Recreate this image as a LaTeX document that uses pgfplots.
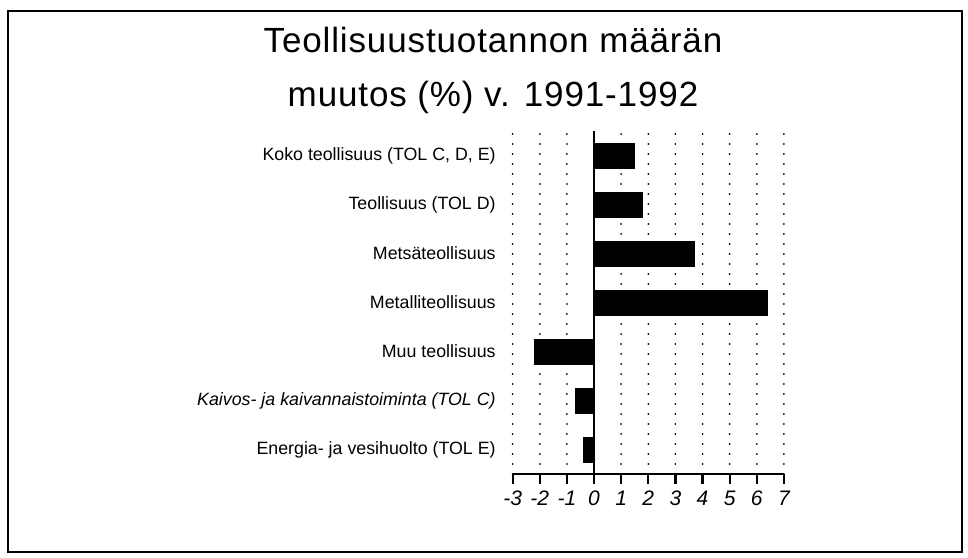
\documentclass[border=0pt]{standalone}
\usepackage{pgfplots}
\pgfplotsset{compat=1.18}
\usepackage{fontspec}
\setmainfont{Liberation Sans}
\newfontfamily\titlefont[LetterSpace=2.5]{Liberation Sans}
\begin{document}
\begin{tikzpicture}
\path (0,0) rectangle (484pt,278.5pt);
\draw[line width=1.3pt] (4pt,273pt) rectangle (481pt,2.5pt);
\node[font=\titlefont\fontsize{17.5}{20}\selectfont, anchor=base, inner sep=0pt] at (246.5pt,252pt) {Teollisuustuotannon määrän};
\node[font=\titlefont\fontsize{17.5}{20}\selectfont, anchor=base, inner sep=0pt] at (246.5pt,225pt) {muutos (\%) v. 1991-1992};
\begin{axis}[
  at={(256.35pt,41.5pt)}, anchor=south west,
  scale only axis, width=135.6pt, height=171.5pt,
  xmin=-3, xmax=7, ymin=-0.5, ymax=6.5,
  xbar, bar width=0.51,
  axis x line*=bottom, axis y line*=left,
  y axis line style={draw=none},
  x axis line style={line width=1.3pt},
  xtick={-3,...,7},
  xticklabels={-3,-2,-1,0,1,2,3,4,5,6,7},
  xticklabel style={font=\itshape\fontsize{10.5}{12}\selectfont, yshift=0pt},
  tick align=outside,
  xtick style={black, line width=1.1pt},
  major tick length=5pt,
  ytick={0,...,6},
  ytick style={draw=none},
  yticklabels={{Energia- ja vesihuolto (TOL E)},{\itshape Kaivos- ja kaivannaistoiminta (TOL C)},{Muu teollisuus},{Metalliteollisuus},{Metsäteollisuus},{Teollisuus (TOL D)},{Koko teollisuus (TOL C, D, E)}},
  yticklabel style={font=\fontsize{8.9}{10}\selectfont, anchor=east, xshift=0pt},
  xmajorgrids,
  major grid style={black, line width=1pt, dash pattern=on 0pt off 5pt, line cap=round},
  clip=false,
]
\addplot[fill=black, draw=black] coordinates {(-0.4,0) (-0.7,1) (-2.2,2) (6.4,3) (3.7,4) (1.8,5) (1.5,6)};
\draw[line width=1pt] (axis cs:0,-0.5) -- (axis cs:0,6.5);
\end{axis}
\end{tikzpicture}
\end{document}
